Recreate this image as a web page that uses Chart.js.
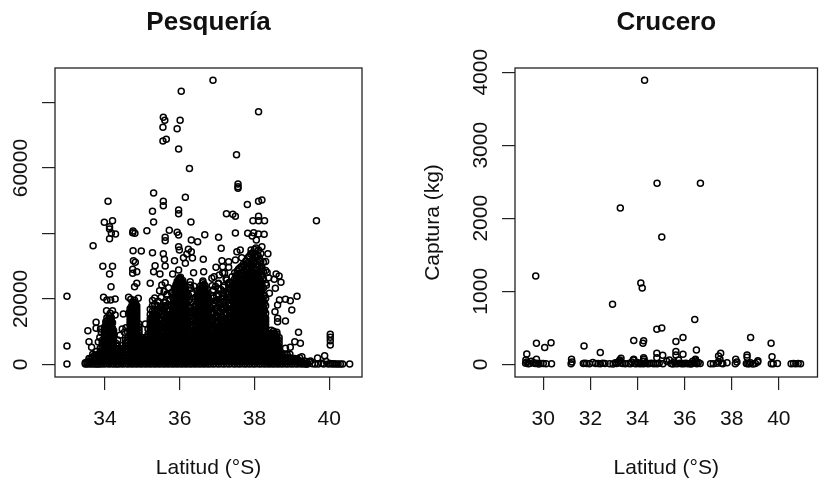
<!DOCTYPE html>
<html>
<head>
<meta charset="utf-8">
<script src="https://cdn.jsdelivr.net/npm/chart.js@4"></script>
<style>
html, body { margin: 0; padding: 0; background: #fff; }
canvas { position: absolute; top: 0; left: 0; }
</style>
</head>
<body>
<div style="position:absolute;left:0;top:0;width:411px;height:481px"><canvas id="pesca"></canvas></div>
<div style="position:absolute;left:411px;top:0;width:412px;height:481px"><canvas id="crucero"></canvas></div>
<script>
// ===== Pesquería: isolated hauls =====
const pescaLat = [36.89,36.04,38.11,35.56,35.60,36.01,35.55,35.93,35.55,35.64,35.97,37.52,36.26,37.56,37.56,37.56,35.30,34.08,35.56,35.56,36.15,37.81,38.11,38.20,35.27,35.97,35.97,37.25,37.42,37.49,38.11,37.96,38.11,38.27,39.66,33.98,34.20,35.30,36.30,34.12,
  34.75,34.80,34.74,35.12,35.72,35.93,35.97,35.61,35.61,34.12,34.17,34.28,34.12,33.68,36.67,37.04,36.31,36.48,37.49,37.82,37.98,38.11,38.26,37.94,38.05,38.20,37.11,35.97,35.99,36.23,36.31,34.75,34.97,35.27,35.56,37.62,37.53,37.91,38.11,36.19,36.10,36.34,36.63,35.59,35.86,34.76,34.81,36.15,35.61,35.34,37.13,37.31,37.49,37.66,36.97,37.15,37.31,33.94,34.20,34.12,34.74,34.74,34.85,35.30,35.47,35.81,35.97,36.37,36.64,37.15,34.16,34.85,34.79,35.21,35.61,35.52,36.28,36.28,36.86,37.04,36.87,37.26,38.58,38.66,38.53,38.71,38.56,35.46,35.66,36.46,37.04,39.14,38.83,38.96,38.67,38.62,38.55,39.00,32.98,33.96,34.05,34.15,34.27,34.63,34.69,34.89,34.49,34.63,34.27,34.04,34.20,33.76,33.54,33.76,33.88,34.46,34.60,35.08,38.62,38.62,38.83,39.18,39.08,39.23,40.03,40.03,40.03,40.03,32.98,32.98,40.55,33.57,33.64,39.88,39.69,39.50,39.27,38.96,38.83,
  39.42,39.48,39.55,39.62,39.71,39.80,39.85,39.92,39.98,40.03,40.08,40.13,40.18,40.24,40.30,40.36,39.03,39.10,39.16,39.22,39.30,39.36,
  35.42,35.50,35.58,35.66,35.74,35.52,35.70,35.44,35.62,35.78,36.26,36.34,36.42,36.30,36.38,36.46,36.28,36.40,36.88,36.96,37.03,37.10,37.17,37.24,37.31,36.92,37.06,37.20,37.34,36.99,37.13,37.27,37.38,38.34,38.38,38.30,38.36,38.32,38.40,33.86,33.90,33.82,34.34,34.40,34.52,34.56];
const pescaCatch = [86850,83480,77250,75530,74600,74600,72470,72050,68300,68800,65840,64100,59900,55100,54300,53800,52400,49850,49850,48500,51070,48900,49850,50240,46800,47200,46050,46050,45870,45260,45260,43900,43900,43900,43900,43400,43900,43500,43500,42080,
  40760,40050,40250,40860,40960,40350,39540,38820,37800,41370,40050,39840,38420,36280,39640,38820,38010,37500,40150,40050,40250,39840,39740,39230,38010,35970,35460,35970,34950,35160,34440,34750,34650,34140,33830,34950,34440,34950,34950,33730,32610,32510,32100,32100,31690,31690,31180,30880,30060,30160,31690,31390,31900,32610,29650,29860,29650,29960,29960,27620,29040,27820,28330,28330,27620,27620,28840,28020,28330,28020,23740,24760,23740,24760,24960,24250,25270,24250,26290,24760,24050,25780,27620,27000,25980,25070,23230,22520,21500,20690,21500,20790,19870,19460,19670,18140,16100,16610,20790,20480,19670,19670,19970,20480,19870,20180,15390,15590,15080,16410,16410,12840,10290,11000,10800,10800,9990,12330,14060,13040,13250,9780,6930,6420,9170,8250,7230,5910,5600,100,100,6930,5200,2650,1940,1020,2340,5200,4890,
  120,700,150,90,110,300,120,850,100,260,90,140,80,110,90,70,1300,900,1500,620,400,180,
  19300,20400,22300,21100,19800,17800,23400,16800,18900,21900,19800,21900,20500,23200,23900,22400,18900,17600,22400,23800,24600,22900,23600,26200,24300,26800,27300,27900,24900,20800,20300,21600,22300,28100,26500,31400,33800,24200,21700,8200,9700,6800,7400,8900,9800,11200];

// ===== Pesquería: the black columns, one list of catches per latitude =====
const bandLat = [33.47,33.52,33.57,33.62,33.67,33.72,33.77,33.82,33.87,33.92,33.98,34.05,34.11,34.17,34.23,34.30,34.36,34.42,34.48,34.55,34.61,34.67,34.73,34.79,34.85,34.91,34.97,35.03,35.09,35.15,35.21,35.27,35.33,35.39,35.45,35.51,35.57,35.63,35.69,35.75,35.81,35.87,35.93,35.99,36.05,36.11,36.17,36.23,36.29,36.35,36.41,36.47,36.53,36.59,36.65,36.71,36.77,36.83,36.90,36.97,37.04,37.11,37.18,37.25,37.32,37.40,37.47,37.54,37.60,37.67,37.74,37.80,37.87,37.94,38.00,38.07,38.14,38.20,38.27,38.33,38.39,38.45,38.51,38.57,38.63,38.69,38.75,38.82,38.88,38.95,39.01,39.08,39.14,39.21,39.27,39.33,39.39];
const bandCatch = [
  [120,510],
  [90,680],
  [140,830,1750],
  [110,910,1880],
  [160,1020,2150,3100],
  [100,860,1790,2760],
  [130,1040,2040,2900,3900],
  [90,870,1830,2630],
  [120,980,1920,2940,3820,4900],
  [150,1060,2010,3020,4020,5100,6150,7300],
  [90,890,1810,2790,3720,4680,5600,6610,7480,8520,9400,10480,11300],
  [160,1040,2030,2930,3960,4870,5890,6790,7820,8700,9730,10640,11600,12450,13300,14200],
  [100,880,1820,2760,3690,4650,5570,6530,7440,8410,9330,10290,11210,12170,13120,14050,14900],
  [140,1060,1990,2930,3880,4810,5770,6700,7640,8580,9520,10440,11400,12330,13270,14210],
  [110,900,1840,2780,3720,4680,5620,6540,7490,8430,9350,10260],
  [130,1050,2000,2940,3870,4800,5700,6400],
  [90,880,1830,2760,3660,4400],
  [150,1040,1980,2910,3810,4750],
  [100,860,1810,2750,3700,4900,5800],
  [140,1020,1960,2900,3830,4770,5700,6600,7400],
  [110,890,1840,2780,3730,4670,5610,6540,7300,8200],
  [150,1050,2000,2930,3860,4810,5740,6690,7620,8560,9500,10450,11380,12320,13260,14210,15130,16070,17000],
  [100,870,1810,2760,3690,4640,5570,6520,7450,8400,9320,10280,11200,12150,13080,14030,14960,15900,16850,17780,18700],
  [140,1040,1970,2920,3850,4800,5730,6680,7610,8560,9490,10440,11370,12320,13240,14200,15120,16070,17000,17950,18880,19600],
  [110,890,1830,2770,3710,4660,5600,6540,7470,8420,9350,10300,11230,12180,13100,14050,14980,15930,16860,17800],
  [150,1050,1990,2940,3870,4820,5750,6700,7620,8570,9500,10450,11380,12320],
  [90,870,1820,2750,3690,4640,5570,6520,7450,8300],
  [140,1030,1970,2910,3850,4790,5730,6660,7500],
  [100,880,1830,2770,3700,4640,5580,6510,7460,8200],
  [150,1060,2000,2930,3880,4820,5750,6690,7640,8570,9300,10800],
  [110,890,1840,2780,3720,4660,5600,6530,7480,8420,9350,10290,11230,12170,13100,14000,15200,16800],
  [160,1050,1990,2940,3870,4820,5750,6700,7630,8580,9500,10450,11380,12330,13250,14200,15100,16300,17900,19500],
  [100,870,1820,2760,3690,4630,5570,6510,7450,8390,9330,10270,11200,12150,13080,14000,15300,16700,18400,20300],
  [140,1030,1980,2920,3850,4800,5730,6680,7610,8550,9480,10430,11600,12900,14500,16100,18000],
  [90,880,1830,2770,3700,4650,5580,6520,7460,8300,9300,10700,12200,14000,15700],
  [150,1050,1990,2930,3860,4810,5740,6690,7620,8500,9900,11500,13200,15400,17300],
  [110,900,1840,2770,3710,4650,5600,6530,7470,8400,9700,11300,13000,15000,16800,19000],
  [140,1040,1980,2920,3860,4800,5740,6680,7620,8500,10100,11800,13600,15500,17600],
  [100,870,1810,2750,3690,4630,5580,6520,7450,8380,9600,11200,12900,14700,16400,18200],
  [150,1060,2000,2940,3880,4820,5760,6690,7630,8600,10000,11700,13500,15300],
  [100,880,1830,2770,3710,4640,5590,6520,7470,8400,9340,10280,11500,13000,14800,16700,18600,20400,22000],
  [140,1030,1970,2910,3850,4800,5740,6670,7610,8550,9490,10430,11370,12310,13250,14190,15130,16070,17000,17950,18880,19820,20760,21700,22640,23500],
  [110,890,1840,2780,3720,4660,5600,6540,7480,8420,9360,10300,11240,12180,13120,14060,15000,15940,16880,17820,18760,19700,20640,21580,22520,23460,24400,25300],
  [150,1050,1990,2930,3870,4810,5750,6690,7630,8570,9510,10450,11390,12330,13270,14210,15150,16090,17030,17970,18910,19850,20790,21730,22670,23610,24550,25490,26300],
  [100,870,1810,2750,3690,4630,5570,6510,7450,8390,9330,10270,11210,12150,13090,14030,14970,15910,16850,17790,18730,19670,20610,21550,22490,23430,24370,25310],
  [140,1040,1980,2920,3860,4800,5740,6680,7620,8560,9500,10440,11380,12320,13260,14200,15140,16080,17020,17960,18900,19840,20780,21720,22660,23600,24400],
  [100,880,1820,2760,3700,4640,5580,6520,7460,8400,9340,10280,11220,12160,13100,14040,14980,15920,16860,17800,18740,19680,20620,21560,22300],
  [150,1060,2000,2940,3880,4820,5760,6700,7640,8580,9520,10700,12300,14100,16000,17900,19400,21200],
  [110,890,1830,2770,3710,4650,5590,6530,7470,8410,9500,11100,13000,15000,17300],
  [140,1030,1970,2910,3850,4790,5730,6670,7610,8550,9800,11600,13400,15700],
  [100,870,1810,2750,3690,4630,5570,6510,7450,8390,9700,11300,13100,15000,16800],
  [150,1050,1990,2930,3870,4810,5750,6690,7630,8570,9510,10900,12500,14600,17000,18900,20900],
  [110,890,1830,2770,3710,4650,5590,6530,7470,8410,9350,10290,11230,12170,13110,14050,14990,15930,16870,17810,18750,19690,20630,21570,22510],
  [140,1040,1980,2920,3860,4800,5740,6680,7620,8560,9500,10440,11380,12320,13260,14200,15140,16080,17020,17960,18900,19840,20780,21720,22660,23600],
  [100,880,1820,2760,3700,4640,5580,6520,7460,8400,9340,10280,11220,12160,13100,14040,14980,15920,16860,17800,18740,19680,20620,21560,22500,23440,24400],
  [150,1060,2000,2940,3880,4820,5760,6700,7640,8580,9520,10460,11400,12340,13280,14220,15160,16100,17040,17980,18920,19860,20800,21740],
  [110,890,1830,2770,3710,4650,5590,6530,7470,8410,9350,10290,11230,12170,13110,14050,14990,15930,17100,18800,20400],
  [140,1030,1970,2910,3850,4790,5730,6670,7610,8550,9490,10430,11700,13300,15400,17200,19300],
  [100,870,1810,2750,3690,4630,5570,6510,7450,8390,9330,10500,12000,13800,15700,18000,20300,22800],
  [150,1050,1990,2930,3870,4810,5750,6690,7630,8570,9700,11300,13000,14900,17100,19400],
  [110,890,1830,2770,3710,4650,5590,6530,7470,8410,9600,11000,12700,14600,16400,18600,21000,23100],
  [140,1040,1980,2920,3860,4800,5740,6680,7620,8560,10000,11800,13500,15300,17500,19900],
  [100,880,1820,2760,3700,4640,5580,6520,7460,8400,9800,11500,13300,15200,17000,19200,21700,24000],
  [150,1060,2000,2940,3880,4820,5760,6700,7640,8580,9900,11600,13400,15400,17300,19700,22100],
  [110,890,1830,2770,3710,4650,5590,6530,7470,8410,9350,10700,12400,14300,16100,18200,20500,23000,25000],
  [140,1030,1970,2910,3850,4790,5730,6670,7610,8550,9490,10430,11700,13200,15000,17000,19300,21600,24000,26800],
  [100,870,1810,2750,3690,4630,5570,6510,7450,8390,9330,10270,11210,12300,13900,15800,17800,19900,21800,23800,26100,28000],
  [150,1050,1990,2930,3870,4810,5750,6690,7630,8570,9510,10450,11390,12330,13270,14210,15150,16090,17500,19300,21100,23000,24900,26700,28500],
  [110,890,1830,2770,3710,4650,5590,6530,7470,8410,9350,10290,11230,12170,13110,14050,14990,15930,16870,17810,18750,20100,21800,23700,25600,27700,29400],
  [140,1040,1980,2920,3860,4800,5740,6680,7620,8560,9500,10440,11380,12320,13260,14200,15140,16080,17020,17960,18900,19840,20780,21720,23000,25000,27000,29600],
  [100,880,1820,2760,3700,4640,5580,6520,7460,8400,9340,10280,11220,12160,13100,14040,14980,15920,16860,17800,18740,19680,20620,21560,22500,23800,25900,28300,30400],
  [150,1060,2000,2940,3880,4820,5760,6700,7640,8580,9520,10460,11400,12340,13280,14220,15160,16100,17040,17980,18920,19860,20800,21740,22680,23620,24800,26800,28900,30900],
  [110,890,1830,2770,3710,4650,5590,6530,7470,8410,9350,10290,11230,12170,13110,14050,14990,15930,16870,17810,18750,19690,20630,21570,22510,23450,24390,25330,27200,29200,31300,33100],
  [140,1030,1970,2910,3850,4790,5730,6670,7610,8550,9490,10430,11370,12310,13250,14190,15130,16070,17010,17950,18890,19830,20770,21710,22650,23590,24530,25470,26410,28200,30100,32000,34000],
  [100,870,1810,2750,3690,4630,5570,6510,7450,8390,9330,10270,11210,12150,13090,14030,14970,15910,16850,17790,18730,19670,20610,21550,22490,23430,24370,25310,26250,27400,29300,31200,33200,35100],
  [150,1050,1990,2930,3870,4810,5750,6690,7630,8570,9510,10450,11390,12330,13270,14210,15150,16090,17030,17970,18910,19850,20790,21730,22670,23610,24550,25490,26430,27800,29700,31500,33400],
  [110,890,1830,2770,3710,4650,5590,6530,7470,8410,9350,10290,11230,12170,13110,14050,14990,15930,16870,17810,18750,19690,20630,21570,22510,23450,24390,26100,28000,30100,32200],
  [140,1040,1980,2920,3860,4800,5740,6680,7620,8560,9500,10440,11380,12320,13260,14200,15140,16080,17020,17960,18900,20200,22400,24600,27000,29500],
  [100,880,1820,2760,3700,4640,5580,6520,7460,8400,9340,10280,11220,12400,14100,16400,18700,21000],
  [150,1060,2000,2940,3880],
  [110,890,1830,2770,3710,4650,5590,6530,7470,8410,9100],
  [140,1030,1970,2910,3850,4790,5730,6670,7610,8550,9490,10400],
  [100,870,1810,2750,3690,4630,5570,6510,7450,8390,9330,10100],
  [150,1050,1990,2930,3870,4810,5750,6690,7630,8500],
  [110,890,1830,2770,3710,4500,5300],
  [140,1040,1980,2920],
  [100,880,1820,2700],
  [150,1060,2000,3050],
  [110,890,1830,2900],
  [140,1030,1970,3100],
  [100,870,1810],
  [150,1050,1800],
  [110,890,1400],
  [140,1030,2000],
  [100,870],
  [150,1050],
  [110,890],
  [140,600]
];

// extra hauls between the columns above, where the picture is blacker
const fillLat = [34.02,34.14,34.20,34.70,34.76,34.82,35.24,35.30,35.36,35.48,35.60,35.72,35.84,35.90,35.96,36.02,36.08,36.14,36.32,36.44,36.50,36.56,36.62,36.68,36.74,36.86,36.94,37.00,37.08,37.15,37.22,37.30,37.36,37.44,37.50,37.57,37.64,37.70,37.77,37.84,37.90,37.97,38.04,38.10,38.17,38.24,38.30,38.48,38.54,38.60,38.66];
const fillCatch = [
  [1300,2400,3500,4400,5300,6400,7500,8300,9200,10200,11100,12100,13000],
  [1400,2500,3300,4500,5400,6300,7300,8200,9100,10100,11200,12000,13000,13900,15600],
  [1200,2300,3400,4300,5200,6200,7100,8100,9000,10000,11000,12700],
  [1300,2400,3200,4300,5200,6100,7100,8000,9000,9900,10900,11800,12800,13700,14700,15600,16500,17500],
  [1400,2200,3300,4200,5100,6000,7000,7900,8800,9800,10700,11700,12600,13600,14500,15500,16400,17400,18300,18900],
  [1300,2300,3200,4100,5200,6100,7200,8100,9100,10100,11000,12000,12900,13900,14800,15800,16700,17600,18500],
  [1200,2400,3300,4400,5300,6200,7200,8200,9200,10100,11100,12000,13000],
  [1400,2300,3400,4200,5300,6300,7300,8300,9300,10200,11200,12200,13100,14100,15000],
  [1300,2200,3200,4300,5100,6100,7100,8100,9000,10000,10900,11900,12800,13800,14700,15200],
  [1500,2600,3500,4600,5400,6500,7600,8400,11200,13600,16400],
  [1400,2500,3400,4500,5500,6400,7500,8500,10800,12600,14900,17900],
  [1300,2400,3600,4400,5600,6300,7400,8600,10400,12100,14300,16700],
  [1200,2300,3300,4300,5200,6200,7200,8100,9100,10100,11100,12100,13100,14100,15100,16100,17000,18000,19000,20000],
  [1400,2400,3400,4400,5400,6400,7400,8400,9300,10300,11300,12300,13300,14300,15300,16300,17300,18300,19300,20300,21300,22300,23300,24300],
  [1300,2200,3200,4200,5200,6200,7100,8100,9100,10100,11100,12000,13000,14000,15000,16000,17000,17900,18900,19900,20900,21900,22900,23800,24800,25800],
  [1200,2400,3300,4300,5300,6300,7300,8300,9200,10200,11200,12200,13200,14200,15200,16100,17100,18100,19100,20100,21100,22100,23000,24000,25000,26000,26600],
  [1400,2300,3300,4300,5300,6200,7200,8200,9200,10200,11200,12100,13100,14100,15100,16100,17000,18000,19000,20000,21000,22000,22900,23900,24900,25600],
  [1300,2300,3300,4200,5200,6200,7200,8200,9200,10100,11100,12100,13100,14100,15100,16000,17000,18000,19000,20000,20900,21900,22900,23600],
  [1500,2500,3600,4500,5500,6500,7500,8500,10300,12100,14000,16100],
  [1400,2600,3500,4400,5400,6600,7600,8300,10800,12800,15300,18000],
  [1300,2200,3200,4200,5200,6100,7100,8100,9100,10000,11000,12000,13000,14000,15000,15900,16900,17900,18900,19900,20900,21800],
  [1400,2300,3300,4300,5300,6300,7200,8200,9200,10200,11200,12200,13100,14100,15100,16100,17100,18100,19000,20000,21000,22000,23000,24000],
  [1200,2400,3300,4300,5300,6200,7200,8200,9200,10200,11200,12100,13100,14100,15100,16100,17100,18000,19000,20000,21000,22000,23000,24000,24900,25500],
  [1300,2400,3400,4300,5400,6300,7300,8300,9300,10300,11300,12300,13300,14200,15200,16200,17200,18200,19200,20200,21200,22200,23200,24000],
  [1400,2500,3500,4400,5400,6400,7400,8400,9400,10400,11300,12300,13300,14300,15300,16300,17300,18300,19300,20300,21000],
  [1500,2600,3400,4500,5500,6600,7400,8500,9300,11200,13700,16100],
  [1300,2300,3400,4300,5300,6300,7300,8300,9400,10600,12300,14200,16900,18800],
  [1400,2500,3300,4400,5200,6400,7200,8300,9200,10900,12800,14700,17400,19700],
  [1200,2400,3500,4500,5400,6200,7500,8200,9500,11200,12000,14000,15900,18300],
  [1300,2300,3200,4300,5600,6300,7300,8400,9300,10400,12600,14500,16700,19000,20800],
  [1400,2200,3400,4400,5300,6500,7400,8200,9100,11000,12300,13900,15800,17900],
  [1300,2400,3300,4600,5400,6100,7200,8500,9400,10300,11900,14100,16500,18700,21400],
  [1500,2500,3400,4300,5200,6300,7500,8300,9200,10500,12400,13800,15900,18200,20600,22900],
  [1200,2300,3300,4300,5300,6300,7300,8300,9300,10300,11300,12300,13300,14300,15300,16300,17300,18300,19300,20300,21300,22300,23300,24600],
  [1400,2400,3400,4400,5400,6400,7400,8400,9400,10400,11400,12400,13400,14400,15400,16400,17400,18400,19400,20400,21400,22400,23400,24400,25600,27100],
  [1300,2200,3200,4200,5200,6200,7200,8200,9200,10200,11200,12200,13200,14200,15200,16200,17200,18200,19200,20200,21200,22200,23200,24200,25200,26200,27600,29100],
  [1200,2300,3300,4300,5300,6300,7300,8300,9300,10300,11300,12300,13300,14300,15300,16300,17300,18300,19300,20300,21300,22300,23300,24300,25300,26300,27900,29800],
  [1400,2500,3500,4500,5500,6500,7500,8500,9500,10500,11500,12500,13500,14500,15500,16500,17500,18500,19500,20500,21500,22500,23500,24500,25500,26500,28300,30600],
  [1300,2300,3300,4300,5300,6300,7300,8300,9300,10300,11300,12300,13300,14300,15300,16300,17300,18300,19300,20300,21300,22300,23300,24300,25300,26300,27200,29300,31600],
  [1400,2400,3400,4400,5400,6400,7400,8400,9400,10400,11400,12400,13400,14400,15400,16400,17400,18400,19400,20400,21400,22400,23400,24400,25400,26400,27400,29900,32800],
  [1200,2200,3200,4200,5200,6200,7200,8200,9200,10200,11200,12200,13200,14200,15200,16200,17200,18200,19200,20200,21200,22200,23200,24200,25200,26200,27200,28600,30800,33700],
  [1300,2300,3300,4300,5300,6300,7300,8300,9300,10300,11300,12300,13300,14300,15300,16300,17300,18300,19300,20300,21300,22300,23300,24300,25300,26300,27300,28400,31000,33900],
  [1400,2500,3500,4500,5500,6500,7500,8500,9500,10500,11500,12500,13500,14500,15500,16500,17500,18500,19500,20500,21500,22500,23500,24500,25500,26500,27500,28800,30500,32700,35600],
  [1200,2300,3300,4300,5300,6300,7300,8300,9300,10300,11300,12300,13300,14300,15300,16300,17300,18300,19300,20300,21300,22300,23300,24300,25300,26300,27800,30200,33200],
  [1300,2400,3400,4400,5400,6400,7400,8400,9400,10400,11400,12400,13400,14400,15400,16400,17400,18400,19400,20400,21400,22400,23400,24400,25300,27300,29200,31400,33900],
  [1400,2300,3300,4300,5300,6300,7300,8300,9300,10300,11300,12300,13300,14300,15200,16200,17500,19200,21100,23300,26000,28400,31200],
  [1200,2200,3200,4200,5200,6200,7200,8200,9200,10200,11200,12200,13200,14100,15600,17900,20200,24800,28700],
  [1300,2400,3400,4300,5300,6300,7300,8100,9300],
  [1400,2300,3200,4400,5200,6400,7200,8300,9500],
  [1200,2500,3300,4200,5400,6200,7400,8400,9200,9800],
  [1300,2200,3400,4300,5300,6300,7300,8200]
];

// ===== Crucero =====
const cruceroLat = [34.30,34.83,36.67,33.27,35.03,29.68,34.14,34.20,32.94,35.03,34.82,33.84,34.26,34.23,35.63,35.93,36.43,36.50,38.80,39.67,39.71,29.30,29.71,30.06,30.33,31.73,32.42,35.63,35.63,35.93,34.82,34.82,35.07,38.65,38.65,37.53,37.44,38.17,39.11,29.26,29.71,31.20,33.30,33.25,33.84,34.26,34.26,34.28,35.35,36.45,36.50,
  29.25,29.30,29.36,29.42,29.50,29.58,29.65,29.72,29.80,29.90,30.00,30.12,30.35,31.18,31.22,31.70,31.76,31.84,31.96,32.10,32.22,32.33,32.42,32.52,32.62,32.82,32.96,33.06,33.12,33.18,33.24,33.30,33.36,33.48,33.62,33.70,33.76,33.82,33.88,33.94,34.00,34.06,34.12,34.18,34.24,34.30,34.36,34.44,34.52,34.60,34.68,34.76,34.84,34.92,35.08,35.24,35.42,35.50,35.56,35.62,35.68,35.74,35.80,35.86,35.92,35.98,36.04,36.10,36.16,36.22,36.28,36.34,36.40,36.46,36.52,36.58,36.66,37.10,37.22,37.38,37.44,37.50,37.56,37.62,37.80,38.15,38.22,38.62,38.68,38.74,38.80,38.90,39.00,39.10,39.68,39.76,39.94,40.52,40.62,40.72,40.82,40.92,41.02,41.12,41.22];
const cruceroCatch = [3890,2480,2480,2140,1743,1210,1115,1046,821,497,480,326,321,289,312,367,615,197,367,289,105,142,289,229,294,252,160,174,128,138,151,90,124,128,96,151,115,69,50,60,69,69,83,60,70,40,90,70,60,60,35,
  14,30,8,12,40,20,10,15,5,10,12,8,6,8,30,10,15,12,8,25,10,12,8,14,10,8,5,20,12,30,45,18,12,6,10,8,30,60,12,6,25,10,8,14,6,12,20,8,10,14,6,12,8,14,6,40,10,5,30,12,8,60,14,8,10,6,14,10,8,12,5,40,14,70,8,25,10,6,8,14,35,70,14,6,20,8,30,12,8,6,20,5,10,30,8,6,12,8,10,6,12,8];

// ===== Axis ticks =====
const pescaXTicks = [34, 36, 38, 40];
const pescaYTicks = [0, 20000, 40000, 60000, 80000];
const pescaYLabels = [0, 20000, 60000];
const cruceroXTicks = [30, 32, 34, 36, 38, 40];
const cruceroYTicks = [0, 1000, 2000, 3000, 4000];

function zip(xs, ys) {
    return xs.map((x, i) => ({ x, y: ys[i] }));
}

function expand(lats, lists) {
    const out = [];
    lists.forEach((list, i) => list.forEach(c => out.push({ x: lats[i], y: c })));
    return out;
}

// R draws a closed box round the plot
const framePlugin = {
    id: 'frame',
    afterDraw(chart) {
        const a = chart.chartArea;
        const ctx = chart.ctx;
        ctx.save();
        ctx.strokeStyle = '#222';
        ctx.lineWidth = 1.3;
        ctx.strokeRect(a.left, a.top, a.right - a.left, a.bottom - a.top);
        ctx.restore();
    }
};

function buildChart(id, cfg) {
    new Chart(document.getElementById(id), {
        type: 'scatter',
        plugins: [framePlugin],
        data: { datasets: [{
            data: cfg.points,
            pointStyle: 'circle',
            pointRadius: 3,
            pointBackgroundColor: 'rgba(0,0,0,0)',
            pointBorderColor: '#000',
            pointBorderWidth: 1.5
        }] },
        options: {
            responsive: false,
            animation: false,
            layout: { padding: { right: cfg.padRight } },
            plugins: {
                legend: { display: false },
                tooltip: { enabled: false },
                title: {
                    display: true,
                    text: cfg.title,
                    fullSize: false,
                    color: '#111',
                    font: { family: 'Liberation Sans', size: 26, weight: 'bold' },
                    padding: { top: 7.4, bottom: 29.4 }
                }
            },
            scales: {
                x: {
                    min: cfg.xMin, max: cfg.xMax,
                    afterBuildTicks: s => { s.ticks = cfg.xTicks.map(v => ({ value: v })); },
                    afterFit: s => { s.height = 104; },
                    grid: { drawOnChartArea: false, drawTicks: true, tickLength: 13, color: '#222', lineWidth: 1.2 },
                    border: { display: false },
                    ticks: { color: '#111', padding: 17, maxRotation: 0, autoSkip: false, font: { family: 'Liberation Sans', size: 21 } },
                    title: { display: true, text: 'Latitud (°S)', color: '#111', padding: { top: 0, bottom: 0.4 }, font: { family: 'Liberation Sans', size: 21 } }
                },
                y: {
                    min: cfg.yMin, max: cfg.yMax,
                    afterBuildTicks: s => { s.ticks = cfg.yTicks.map(v => ({ value: v })); },
                    afterFit: s => { s.width = cfg.yWidth; },
                    grid: { drawOnChartArea: false, drawTicks: true, tickLength: 13, color: '#222', lineWidth: 1.2 },
                    border: { display: false },
                    ticks: {
                        color: '#111', padding: cfg.yPad, autoSkip: false, minRotation: 90, maxRotation: 90, crossAlign: 'center',
                        font: { family: 'Liberation Sans', size: 21 },
                        callback: v => (cfg.yLabels.includes(v) ? String(v) : '')
                    },
                    title: { display: !!cfg.yTitle, text: cfg.yTitle, color: '#111', padding: { top: 9.4, bottom: 0 }, font: { family: 'Liberation Sans', size: 21 } }
                }
            }
        }
    });
}

const c1 = document.getElementById('pesca'); c1.width = 411; c1.height = 481;
const c2 = document.getElementById('crucero'); c2.width = 412; c2.height = 481;

buildChart('pesca', {
    title: 'Pesquería',
    points: zip(pescaLat, pescaCatch).concat(expand(bandLat, bandCatch), expand(fillLat, fillCatch)),
    xMin: 32.66, xMax: 40.88, yMin: -3880, yMax: 90600,
    xTicks: pescaXTicks, yTicks: pescaYTicks, yLabels: pescaYLabels,
    yWidth: 55, yPad: -8, yTitle: '', padRight: 49
});

buildChart('crucero', {
    title: 'Crucero',
    points: zip(cruceroLat, cruceroCatch),
    xMin: 28.8, xMax: 41.64, yMin: -174, yMax: 4058,
    xTicks: cruceroXTicks, yTicks: cruceroYTicks, yLabels: cruceroYTicks,
    yWidth: 104, yPad: -3, yTitle: 'Captura (kg)', padRight: 1
});
</script>
</body>
</html>
